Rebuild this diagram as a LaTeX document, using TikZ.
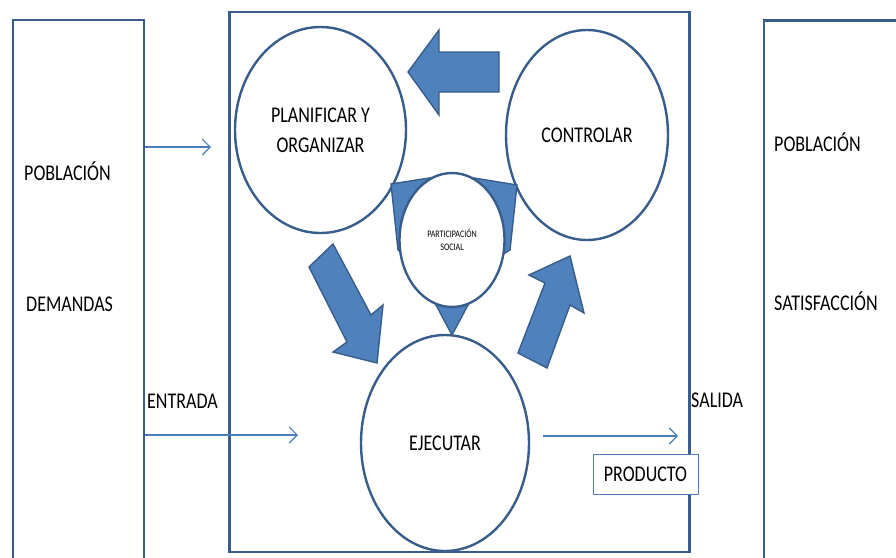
\documentclass[tikz,border=0pt]{standalone}
\usepackage{fontspec}
\setmainfont{Carlito}[FakeStretch=0.8]
\usetikzlibrary{shapes.geometric,arrows.meta}
\definecolor{edge}{HTML}{385D8A}
\definecolor{shade}{HTML}{4F81BD}
\definecolor{wire}{HTML}{4A7EBB}

\begin{document}
\begin{tikzpicture}[x=1pt,y=-1pt,
  frame/.style={draw=edge,line width=2.4pt,rectangle,inner sep=0pt},
  bubble/.style={draw=edge,line width=2.4pt,ellipse,fill=white,inner sep=0pt,
    align=center,font=\fontsize{22.5}{30}\selectfont},
  blockarrow/.style={draw=edge,line width=1.4pt,fill=shade,line join=miter},
  wirearrow/.style={draw=wire,line width=1.2pt,-{Straight Barb[length=8pt,width=16pt]}},
  lbl/.style={font=\fontsize{22.5}{27}\selectfont,inner sep=0pt,anchor=base west},
  tag/.style={draw=wire,line width=1pt,fill=white,inner sep=0pt,
    font=\fontsize{22.5}{27}\selectfont},
]
\useasboundingbox (0,0) rectangle (896,557);
\clip (0,0) rectangle (896,557);

% input, system and output frames
\node[frame,minimum width=131pt,minimum height=560pt] (inbox) at (78.5,300) {};
\node[frame,minimum width=460pt,minimum height=540pt] (sysbox) at (459.3,281.9) {};
\node[frame,minimum width=156pt,minimum height=559.4pt] (outbox) at (842,300.3) {};

% thin flow connectors
\coordinate (inTip) at (211,147);
\coordinate (entTip) at (298,435);
\coordinate (outStart) at (543,436);
\coordinate (outTip) at (678,436);
\draw[wirearrow] (inbox.east |- inTip) -- (inTip);
\draw[wirearrow] (inbox.east |- entTip) -- (entTip);
\draw[wirearrow] (outStart) -- (outTip);

% process stages
\node[bubble,minimum width=171pt,minimum height=206pt] (plan) at (320.5,130) {PLANIFICAR Y\\ORGANIZAR};
\node[bubble,minimum width=162pt,minimum height=210pt] (ctrl) at (587,135) {CONTROLAR};
\node[bubble,minimum width=168pt,minimum height=216pt] (exec) at (445,443) {EJECUTAR};

% three-pointed star behind the central circle
\draw[blockarrow] (391,184) -- (442,176) -- (462,176) -- (517,185) -- (510,250)
  -- (490,262) -- (476,290) -- (452,335) -- (428,290) -- (412,262) -- (398,250) -- cycle;
\node[bubble,minimum width=105pt,minimum height=134pt,font=\fontsize{10}{13}\selectfont]
  (part) at (452,240) {PARTICIPACIÓN\\SOCIAL};

% block arrows of the cycle
\draw[blockarrow] (499,52) -- (439,52) -- (439,30) -- (408,72) -- (439,115) -- (439,92) -- (499,92) -- cycle;
\draw[blockarrow] (309,267) -- (333,244) -- (371,315) -- (383,305) -- (377,363) -- (333,352) -- (347,342) -- cycle;
\draw[blockarrow] (518,353) -- (545,283) -- (529,275) -- (570,256) -- (584,313) -- (570,305) -- (547,368) -- cycle;

% labels
\node[lbl] (popIn) at (24,180) {POBLACIÓN};
\node[lbl] (demand) at (26,311) {DEMANDAS};
\node[lbl] (entrada) at (147,408) {ENTRADA};
\node[lbl] (salida) at (691,407) {SALIDA};
\node[lbl] (popOut) at (774,151) {POBLACIÓN};
\node[lbl] (satisf) at (774,310) {SATISFACCIÓN};
\node[tag,minimum width=105pt,minimum height=40pt] (prod) at (645.5,474) {PRODUCTO};
\end{tikzpicture}
\end{document}
